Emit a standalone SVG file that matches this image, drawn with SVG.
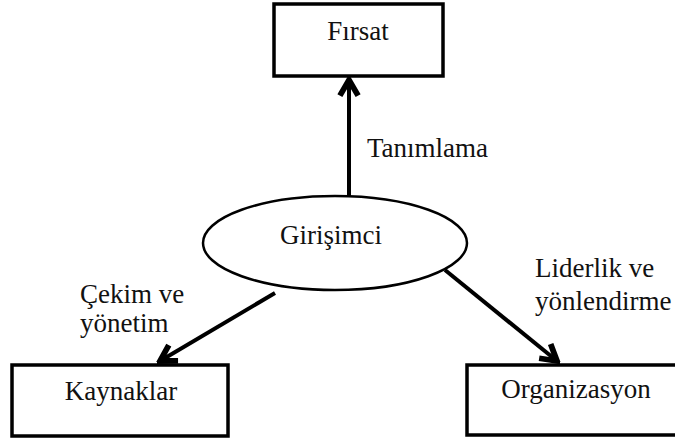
<svg xmlns="http://www.w3.org/2000/svg" width="675" height="442" viewBox="0 0 675 442">
<style>
.box{fill:#fff;stroke:#000;stroke-width:3.5}
.ell{fill:#fff;stroke:#000;stroke-width:2.5}
text{font-family:'Liberation Serif','DejaVu Serif','Times New Roman',serif;font-size:27px;fill:#111}
.c{text-anchor:middle}
.con{stroke:#000;stroke-width:4;fill:none}
</style>
<defs>
<marker id="ah" viewBox="0 0 10 10" refX="8.5" refY="5" markerWidth="6" markerHeight="6" orient="auto" markerUnits="strokeWidth">
<path d="M2,1.2 L8.5,5 L2,8.8" fill="none" stroke="#000" stroke-width="2.4" stroke-linejoin="miter"/>
</marker>
</defs>
<rect width="675" height="442" fill="#fff"/>
<g id="connectors">
<line class="con" x1="349" y1="196" x2="349" y2="80" marker-end="url(#ah)"/>
<line class="con" x1="275" y1="293" x2="160" y2="361" marker-end="url(#ah)"/>
<line class="con" x1="445" y1="270" x2="557" y2="361" marker-end="url(#ah)"/>
</g>
<g id="firsat">
<rect class="box" x="274" y="4" width="169" height="72"/>
<text class="c" x="358" y="40" font-family="Liberation Serif, serif">Fırsat</text>
</g>
<g id="girisimci">
<ellipse class="ell" cx="335" cy="243" rx="132" ry="47"/>
<text class="c" x="331" y="244" font-family="Liberation Serif, serif">Girişimci</text>
</g>
<g id="kaynaklar">
<rect class="box" x="12" y="365" width="216" height="71"/>
<text class="c" x="121" y="400" font-family="Liberation Serif, serif">Kaynaklar</text>
</g>
<g id="organizasyon">
<rect class="box" x="467" y="365" width="212" height="70"/>
<text class="c" x="576" y="398" font-family="Liberation Serif, serif">Organizasyon</text>
</g>
<g id="labels">
<text x="367" y="157" font-family="Liberation Serif, serif">Tanımlama</text>
<text x="80" y="303" font-family="Liberation Serif, serif">Çekim ve</text>
<text x="80" y="332" font-family="Liberation Serif, serif">yönetim</text>
<text x="535" y="277" font-family="Liberation Serif, serif">Liderlik ve</text>
<text x="535" y="310" font-family="Liberation Serif, serif">yönlendirme</text>
</g>
</svg>
